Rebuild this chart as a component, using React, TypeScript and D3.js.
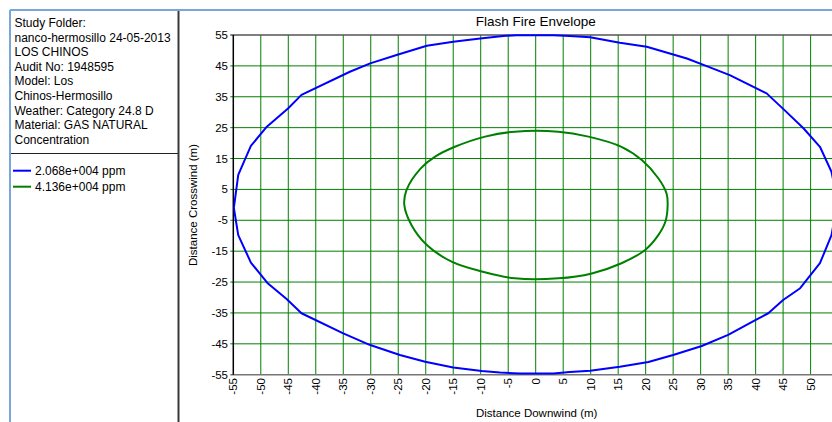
import React from "react";
import * as d3 from "d3";

// Study header lines shown in the side panel
const infoLines = [
  "Study Folder:",
  "nanco-hermosillo 24-05-2013",
  "LOS CHINOS",
  "Audit No: 1948595",
  "Model: Los",
  "Chinos-Hermosillo",
  "Weather: Category 24.8 D",
  "Material: GAS NATURAL",
  "Concentration",
];

const seriesNames = ["2.068e+004 ppm", "4.136e+004 ppm"];
const seriesColors = ["#0000ff", "#008000"];

// Envelope outlines (downwind, crosswind) in metres
const envelopeLow: [number, number][] = [
  [-54.9, -1.0], [-54.1, -9.8], [-51.8, -18.7], [-48.8, -25.3], [-45.3, -30.5],
  [-42.6, -35.1], [-35.0, -41.6], [-30.1, -45.4], [-24.7, -48.6], [-20.1, -50.8],
  [-15.0, -52.7], [-9.8, -53.8], [-6.5, -54.3], [-2.9, -54.6], [3.2, -54.6],
  [6.2, -54.1], [9.9, -53.7], [15.3, -52.4], [20.5, -50.9], [25.0, -48.6],
  [30.2, -45.7], [35.0, -42.1], [40.2, -37.1], [42.3, -35.1], [45.0, -30.8],
  [48.1, -27.0], [51.7, -18.9], [53.8, -9.8], [54.9, 1.0], [53.8, 10.7],
  [51.7, 18.8], [48.7, 24.8], [45.3, 30.6], [42.0, 36.1], [35.3, 42.0],
  [31.1, 44.9], [27.5, 47.4], [20.2, 51.2], [15.3, 52.5], [9.9, 54.3],
  [6.2, 54.7], [3.2, 54.9], [-3.5, 54.9], [-5.9, 54.7], [-10.1, 53.9],
  [-15.0, 52.8], [-19.8, 51.5], [-25.3, 48.5], [-30.1, 45.8], [-33.8, 43.1],
  [-42.6, 35.6], [-45.0, 31.3], [-48.9, 25.3], [-51.8, 19.1], [-54.1, 9.7],
];

const envelopeHigh: [number, number][] = [
  [-3.8, 23.7], [4.1, 23.7], [9.6, 22.1], [15.6, 18.8], [19.3, 14.5],
  [22.3, 8.6], [23.8, 3.7], [24.0, 0], [23.6, -5.4], [22.3, -9.8],
  [19.9, -14.6], [15.6, -18.9], [10.2, -22.2], [4.1, -23.8], [-3.8, -23.8],
  [-9.8, -21.6], [-15.3, -18.4], [-19.8, -13.0], [-22.6, -6.5], [-23.9, 0],
  [-23.5, 4.8], [-20.9, 11.8], [-18.3, 15.6], [-14.7, 18.8], [-9.2, 22.1],
];

const xTicks = [-55, -50, -45, -40, -35, -30, -25, -20, -15, -10, -5, 0, 5, 10, 15, 20, 25, 30, 35, 40, 45, 50, 55];
const yTicks = [55, 45, 35, 25, 15, 5, -5, -15, -25, -35, -45, -55];

const W = 832;
const H = 422;
const plot = { left: 233.3, top: 35, bottom: 374.7, right: 838.1 };
const font = "'Liberation Sans', Arial, sans-serif";

export default function App() {
  const x = d3.scaleLinear().domain([-55, 55]).range([plot.left, plot.right]);
  const y = d3.scaleLinear().domain([-55, 55]).range([plot.bottom, plot.top]);
  const linear = d3
    .line<[number, number]>()
    .x((d) => x(d[0]))
    .y((d) => y(d[1]))
    .curve(d3.curveLinearClosed);
  const smooth = d3
    .line<[number, number]>()
    .x((d) => x(d[0]))
    .y((d) => y(d[1]))
    .curve(d3.curveCatmullRomClosed);

  const paths = [linear(envelopeLow) ?? "", smooth(envelopeHigh) ?? ""];

  return (
    <svg
      width={W}
      height={H}
      style={{ position: "absolute", left: 0, top: 0, background: "#fff" }}
      fontFamily={font}
    >
      <defs>
        <clipPath id="plotClip">
          <rect x={plot.left} y={plot.top - 1} width={plot.right - plot.left} height={plot.bottom - plot.top + 2} />
        </clipPath>
      </defs>

      {/* window frame */}
      <line x1={10} y1={10} x2={W} y2={10} stroke="#7aa6dc" strokeWidth={2} />
      <line x1={10} y1={10} x2={10} y2={H} stroke="#7aa6dc" strokeWidth={2} />
      <line x1={178.5} y1={11} x2={178.5} y2={H} stroke="#3a3a3a" strokeWidth={2} />
      <line x1={11} y1={153.5} x2={178} y2={153.5} stroke="#222" strokeWidth={1} />

      {/* side panel text */}
      {infoLines.map((t, i) => (
        <text key={t} x={14.5} y={27 + i * 14.6} fontSize={12} fill="#000">
          {t}
        </text>
      ))}
      {seriesNames.map((t, i) => (
        <g key={t}>
          <line x1={13} x2={31} y1={170.7 + i * 16} y2={170.7 + i * 16} stroke={seriesColors[i]} strokeWidth={2} />
          <text x={35} y={175 + i * 16} fontSize={12} fill="#000">
            {t}
          </text>
        </g>
      ))}

      {/* title */}
      <text x={(plot.left + plot.right) / 2} y={26} textAnchor="middle" fontSize={13.5} fill="#000">
        Flash Fire Envelope
      </text>

      {/* grid */}
      {xTicks
        .filter((v) => v !== -55 && v !== 55)
        .map((v) => (
          <line key={"gx" + v} x1={x(v)} x2={x(v)} y1={plot.top} y2={plot.bottom} stroke="#008000" strokeWidth={1} />
        ))}
      {yTicks
        .filter((v) => v !== -55 && v !== 55)
        .map((v) => (
          <line key={"gy" + v} x1={plot.left - 3} x2={W} y1={y(v)} y2={y(v)} stroke="#008000" strokeWidth={1} />
        ))}

      {/* plot frame */}
      <line x1={plot.left - 3} x2={W} y1={plot.top} y2={plot.top} stroke="#555" strokeWidth={1.5} />
      <line x1={plot.left - 3} x2={W} y1={plot.bottom} y2={plot.bottom} stroke="#777" strokeWidth={1.5} />
      <line x1={plot.left} x2={plot.left} y1={plot.top} y2={plot.bottom} stroke="#000" strokeWidth={1.5} />

      {/* envelopes */}
      <g clipPath="url(#plotClip)">
        {paths.map((d, i) => (
          <path key={i} d={d} fill="none" stroke={seriesColors[i]} strokeWidth={2} strokeLinejoin="round" />
        ))}
      </g>

      {/* y tick labels */}
      {yTicks.map((v) => (
        <text key={"yl" + v} x={228} y={y(v)} dy="0.35em" textAnchor="end" fontSize={11.5} fill="#000">
          {v}
        </text>
      ))}

      {/* x tick labels (only those inside the window) */}
      {xTicks
        .filter((v) => x(v) + 6 < W)
        .map((v) => (
          <text
            key={"xl" + v}
            transform={`translate(${x(v)},378) rotate(-90)`}
            dy="0.35em"
            textAnchor="end"
            fontSize={11.5}
            fill="#000"
          >
            {v}
          </text>
        ))}

      {/* axis titles */}
      <text x={(plot.left + plot.right) / 2 + 1} y={417} textAnchor="middle" fontSize={11.5} fill="#000">
        Distance Downwind (m)
      </text>
      <text transform="translate(192.7,205) rotate(-90)" dy="0.35em" textAnchor="middle" fontSize={11.5} fill="#000">
        Distance Crosswind (m)
      </text>
    </svg>
  );
}
